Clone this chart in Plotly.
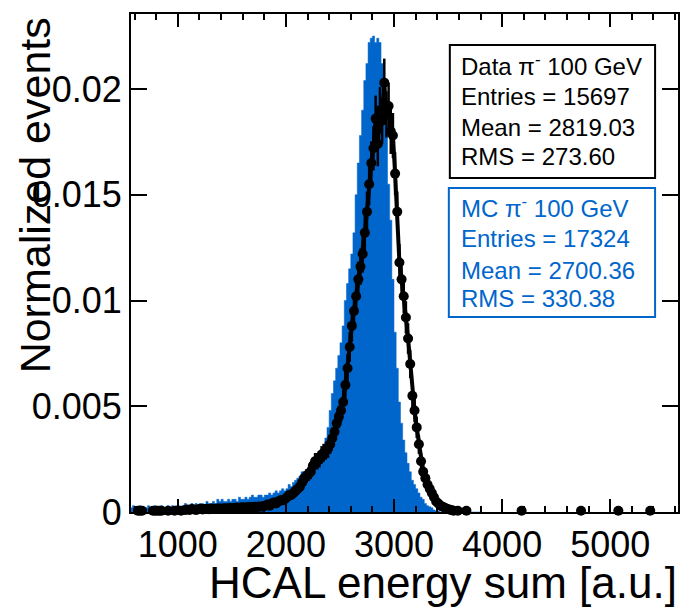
import plotly.graph_objects as go

# ---------------- data (heights in units of 1e-4) ----------------
BIN_START = 560
BIN_WIDTH = 20
N_DATA_ENTRIES = 15697

mc_values = [
    2, 3,
    2, 2, 3, 2, 1, 2, 3, 2, 2, 3, 2, 2, 3, 2, 2, 3, 2, 3, 2, 3,
    3, 2, 3, 4, 3, 3, 4, 3, 4, 3, 4, 4, 3, 5, 4, 4, 5, 4, 6, 5,
    6, 5, 5, 6, 5, 6, 6, 5, 7, 6, 6, 7, 6, 7, 8, 7, 7, 8, 8, 7,
    8, 8, 9, 8, 9, 10, 9, 10, 11, 10,
    11, 13, 12, 14, 15, 16, 17, 19, 18, 20,
    19, 21, 23, 24, 25, 27, 29, 32, 35, 40,
    48, 56, 62, 68, 74, 80, 88, 100, 108, 115,
    122, 132, 150, 165, 178, 190, 204, 212, 222, 224,
    225, 222, 224, 222, 212, 200, 182, 155, 138, 110,
    85, 68, 52, 42, 34, 28, 23, 19, 15, 13,
    11, 9, 7, 6, 4, 3, 2.5, 2, 1, 0.5,
    0.5, 0, 0, 0, 0, 0, 0, 0, 0, 0, 0, 0, 0, 0, 0, 0, 0, 0, 0, 0,
]

data_values = [
    None, None,
    None, 0.6, 0.6, 0.6, None, None, None, None, 0.6, 0.6, 0.6, 0.6, 0.6, None, None, 0.6, None, None, 0.6, None,
    None, 0.6, None, 1.0, 1.2, 1.0, 1.4, 1.2, 1.0, 1.3, 1.5, 1.2, 1.4, 1.5, 1.3, 1.6, 1.4, 1.5, 1.7, 1.6,
    1.5, 1.8, 1.7, 1.8, 1.9, 1.7, 2.0, 2.1, 1.9, 2.2, 2.0, 2.3, 2.1, 2.4, 2.2, 2.5, 2.3, 2.6, 2.5, 2.7,
    3.0, 3.5, 3.0, 4.0, 4.5, 4.0, 5.0, 5.5, 5.5, 6.0,
    7, 8, 8, 9, 10, 11, 12, 14, 16, 17,
    18, 19, 22, 24, 24, 25, 27, 28, 29, 30,
    32, 35, 38, 42, 45, 48, 52, 60, 68, 78,
    88, 95, 102, 110, 116, 122, 132, 142, 155, 165,
    172, 186, 174, 190, 185, 203, 188, 192, 180, 178,
    160, 142, 118, 110, 102, 92, 82, 70, 55, 48,
    40, 32, 24, 19, 16, 13, 11, 9, 7, 5,
    4, 3, 2.5, 2, 1.5, 1.2, 1, 0.6, None, 0.6, None, None, None, 0.6, None, None, None, None, None, None,
]

tail_x = [4180, 4730, 5075, 5370]
tail_values = [0.6, 0.6, 0.6, 0.6]

x_tick_vals = [1000, 2000, 3000, 4000, 5000]
y_tick_vals = [0, 0.005, 0.01, 0.015, 0.02]
y_tick_text = ["0", "0.005", "0.01", "0.015", "0.02"]

data_box_lines = ["Data π<sup>-</sup> 100 GeV", "Entries = 15697", "Mean = 2819.03", "RMS = 273.60"]
mc_box_lines = ["MC π<sup>-</sup> 100 GeV", "Entries = 17324", "Mean = 2700.36", "RMS = 330.38"]

# ---------------- derived ----------------
SCALE = 1e-4
n = len(mc_values)
edges = [BIN_START + i * BIN_WIDTH for i in range(n + 1)]
centers = [BIN_START + (i + 0.5) * BIN_WIDTH for i in range(n)]
mc_y = [v * SCALE for v in mc_values]
data_y = [None if v is None else v * SCALE for v in data_values]
data_err = [None if v is None else (v / N_DATA_ENTRIES) ** 0.5 for v in data_y]
tail_y = [v * SCALE for v in tail_values]
tail_err = [(v / N_DATA_ENTRIES) ** 0.5 for v in tail_y]

BLUE = "#0066CC"
FONT = "Liberation Sans, Arial, sans-serif"

fig = go.Figure()
fig.add_trace(go.Scatter(
    x=edges, y=mc_y + [mc_y[-1]], mode="lines", line_shape="hv",
    line=dict(color=BLUE, width=0.5), fill="tozeroy", fillcolor=BLUE,
    hoverinfo="skip"))
fig.add_trace(go.Scatter(
    x=centers, y=data_y, mode="lines+markers", connectgaps=False,
    line=dict(color="black", width=4),
    marker=dict(color="black", size=10),
    error_y=dict(type="data", array=data_err, color="black", thickness=2.5, width=0),
    cliponaxis=False))
fig.add_trace(go.Scatter(
    x=tail_x, y=tail_y, mode="markers",
    marker=dict(color="black", size=10),
    error_y=dict(type="data", array=tail_err, color="black", thickness=2, width=0),
    cliponaxis=False))

# plot area in pixels
L, R, T, B = 131, 680, 14, 512
W, H = R - L, B - T
def px(xp):
    return (xp - L) / W
def py(yp):
    return (B - yp) / H

fig.update_layout(
    width=686, height=607,
    margin=dict(l=L, r=686 - R, t=T, b=607 - B),
    plot_bgcolor="white", paper_bgcolor="white",
    showlegend=False,
    font=dict(family=FONT, color="black"),
    xaxis=dict(
        range=[567, 5627], showline=True, linecolor="black", linewidth=2,
        mirror="allticks", ticks="inside", ticklen=13, tickwidth=2, tickcolor="black",
        tickvals=x_tick_vals, tickfont=dict(size=36, family=FONT),
        showgrid=False, zeroline=False,
        minor=dict(ticks="inside", ticklen=6, tickwidth=2, tickcolor="black", dtick=200, tick0=0, showgrid=False),
    ),
    yaxis=dict(
        range=[0, 0.023546], showline=True, linecolor="black", linewidth=2,
        mirror="allticks", ticks="inside", ticklen=16, tickwidth=2, tickcolor="black",
        tickvals=y_tick_vals, ticktext=y_tick_text, tickfont=dict(size=36, family=FONT),
        showgrid=False, zeroline=False,
    ),
)

ann = []
ann.append(dict(text="Normalized events", xref="paper", yref="paper", x=px(35), y=py(195),
                xanchor="center", yanchor="middle", textangle=-90, showarrow=False,
                font=dict(size=43, family=FONT, color="black")))
ann.append(dict(text="HCAL energy sum [a.u.]", xref="paper", yref="paper", x=px(681), y=py(582),
                xanchor="right", yanchor="middle", showarrow=False,
                font=dict(size=44, family=FONT, color="black")))

shapes = [
    dict(type="rect", xref="paper", yref="paper", x0=px(451), x1=px(657), y0=py(45), y1=py(178),
         line=dict(color="black", width=2), fillcolor="white", layer="above"),
    dict(type="rect", xref="paper", yref="paper", x0=px(450), x1=px(657), y0=py(188), y1=py(317),
         line=dict(color=BLUE, width=2), fillcolor="white", layer="above"),
]
for txt, yc in zip(data_box_lines, [65, 96, 128, 156]):
    ann.append(dict(text=txt, xref="paper", yref="paper", x=px(460), y=py(yc),
                    xanchor="left", yanchor="middle", showarrow=False,
                    font=dict(size=24, family=FONT, color="black")))
for txt, yc in zip(mc_box_lines, [207, 238, 270, 298]):
    ann.append(dict(text=txt, xref="paper", yref="paper", x=px(460), y=py(yc),
                    xanchor="left", yanchor="middle", showarrow=False,
                    font=dict(size=24, family=FONT, color=BLUE)))

fig.update_layout(annotations=ann, shapes=shapes)
fig.write_html("out.html")
